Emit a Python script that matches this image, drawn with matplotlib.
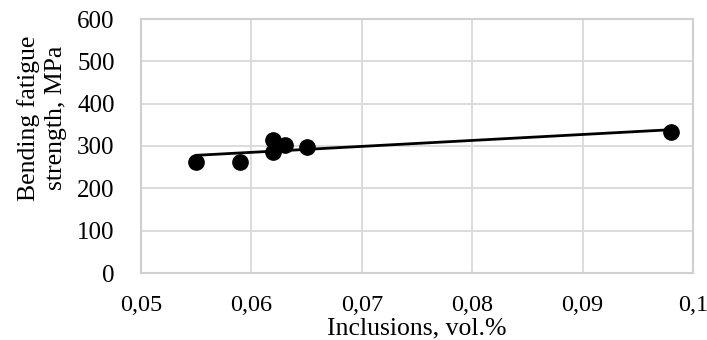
import matplotlib.pyplot as plt
import numpy as np

plt.rcParams['font.family'] = ['Liberation Serif', 'DejaVu Serif']

inclusions = [0.055, 0.059, 0.062, 0.062, 0.063, 0.065, 0.098]
strength = [263, 263, 313, 285, 302, 298, 333]
xticks = [0.05, 0.06, 0.07, 0.08, 0.09, 0.1]
xlabels = ['0,05', '0,06', '0,07', '0,08', '0,09', '0,1']

fig = plt.figure(figsize=(7.07, 3.4), dpi=100)
ax = fig.add_axes([141 / 707, 1 - 273 / 340, 552 / 707, 254 / 340])

# linear trend line like the spreadsheet one
k, b = np.polyfit(inclusions, strength, 1)
xt = np.array([min(inclusions), max(inclusions)])
ax.plot(xt, k * xt + b, color='black', lw=2, zorder=3)
ax.plot(inclusions, strength, 'o', color='black', ms=11, zorder=4)

ax.set_xlim(0.05, 0.1)
ax.set_ylim(0, 600)
ax.set_xticks(xticks)
ax.set_xticklabels(xlabels)
ax.set_yticks(range(0, 601, 100))
ax.grid(True, color='#d9d9d9', lw=1.3)
ax.set_axisbelow(True)
for s in ax.spines.values():
    s.set_color('#d0d0d0')
    s.set_linewidth(1.5)
ax.tick_params(length=0, labelsize=18)
ax.tick_params(axis='x', pad=16, labelsize=17.5)
ax.tick_params(axis='y', pad=19)

fig.text(417 / 707, 1 - 334 / 340, 'Inclusions, vol.%', fontsize=18.5,
         ha='center', va='baseline')
fig.text(42 / 707, 1 - 118 / 340, 'Bending fatigue\nstrength, MPa', fontsize=18.5,
         ha='center', va='center', rotation=90, linespacing=1.25)

fig.savefig('out.png', dpi=100)
